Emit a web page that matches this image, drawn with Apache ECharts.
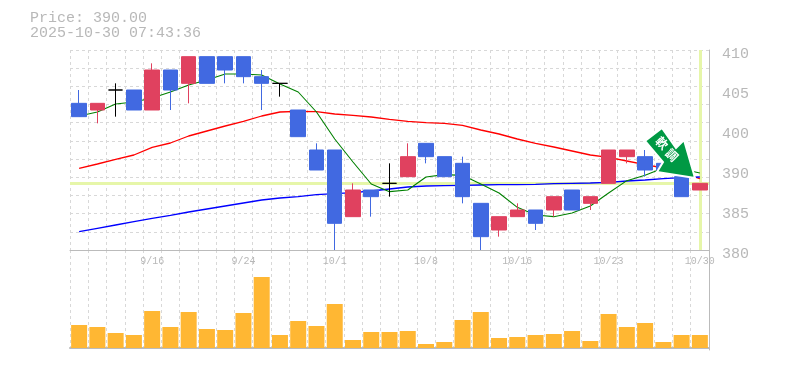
<!DOCTYPE html>
<html><head><meta charset="utf-8">
<style>html,body{margin:0;padding:0;background:#fff}#c{width:785px;height:370px}</style>
<script src="https://cdn.jsdelivr.net/npm/echarts@6/dist/echarts.min.js"></script>
</head><body><div id="c"></div>
<script>
const categories = ['9/9','9/10','9/11','9/12','9/16','9/17','9/18','9/19','9/22','9/24','9/25','9/26','9/29','9/30','10/1','10/2','10/3','10/6','10/7','10/8','10/9','10/10','10/14','10/15','10/16','10/17','10/20','10/21','10/22','10/23','10/24','10/27','10/28','10/29','10/30'];
// [open, close, low, high]
const ohlc = [
[402,400,400,404],[401,402,399,402],[404,404,400,405],[404,401,401,404],[401,407,401,408],
[407,404,401,407],[405,409,402,409],[409,405,405,409],[409,407,405,409],[409,406,405,409],
[406,405,401,407],[405,405,403,405],[401,397,397,401],[395,392,392,396],[395,384,380,395],
[385,389,385,390],[389,388,385,389],[390,390,388,393],[391,394,391,396],[396,394,393,396],
[394,391,391,394],[393,388,387,394],[387,382,380,387],[383,385,382,385],[385,386,385,387],
[386,384,383,386],[386,388,385,388],[389,386,386,389],[387,388,386,388],[390,395,390,395],
[394,395,393,395],[394,392,391,395],[393,392,392,393],[391,388,388,391],[389,390,389,390]];
const maShort = [400.1,400.7,401.9,402.2,402.8,403.7,404.75,405.5,406.4,406.4,406.25,404.9,403.7,400.7,396.65,393.2,389.9,388.75,389,390.95,391.3,391.2,389.9,388.55,386.4,385.25,385,385.55,386.6,388.55,390.4,391.2,392.3,392.15,391.55];
const maMid = [392.26,392.9,393.6,394.25,395.4,396.05,397.1,397.85,398.6,399.3,400.1,400.7,400.8,400.75,400.4,400.2,399.95,399.6,399.3,399.1,399,398.7,398,397.4,396.65,396,395.45,394.85,394.25,393.9,393.35,392.8,392.3,391.55,390.7];
const maLong = [382.75,383.25,383.75,384.25,384.75,385.2,385.7,386.15,386.6,387.05,387.5,387.8,388,388.3,388.45,388.6,388.85,389.15,389.45,389.6,389.65,389.7,389.75,389.8,389.8,389.85,389.95,390,390.05,390.15,390.35,390.5,390.7,390.85,390.95];
const volume = [23,21,15,13,37,21,36,19,18,35,71,13,27,22,44,8,16,16,17,4,6,28,36,10,11,13,14,17,7,34,21,25,6,13,13];
const priceTickValues = [380,386,392,398,404,410];
const priceTickLabels = ['380','385','390','400','405','410'];
const currentPrice = 390;
const titleLines = ['Price: 390.00','2025-10-30 07:43:36'];
const arrowChars = ['軟','調'];

const MONO = '"Liberation Mono",monospace';
const GRAY = '#b8b8b8', AXIS = '#bbbbbb', GRID = '#d8d8d8', BAND = '#e6f6a9';
const gridStep = 30/11;
const gridValues = Array.from({length:12},(_,i)=>380+i*gridStep);
const colored = ohlc.map(d=>{
  if(d[0]===d[1]) return {value:d,itemStyle:{color:'#000',color0:'#000',borderColor:'#000',borderColor0:'#000'}};
  return d;
});
const chart = echarts.init(document.getElementById('c'),null,{renderer:'canvas'});
const dashed = {show:true,lineStyle:{color:GRID,type:[3,3],width:1}};
chart.setOption({
  animation:false,
  backgroundColor:'#fff',
  title:{text:titleLines.join('\n'),left:30,top:11,padding:0,textStyle:{fontFamily:MONO,fontSize:15,fontWeight:'normal',color:GRAY,lineHeight:15}},
  grid:[{left:70,right:76,top:50,height:200},{left:70,right:76,top:250,height:100}],
  xAxis:[
   {type:'category',gridIndex:0,data:categories,boundaryGap:true,
    axisLine:{show:true,lineStyle:{color:AXIS,width:1}},axisTick:{show:false},
    axisLabel:{show:true,interval:i=>i%5===4,fontFamily:MONO,fontSize:10,color:GRAY,margin:6},
    splitLine:{...dashed,interval:0}},
   {type:'category',gridIndex:1,data:categories,boundaryGap:true,
    axisLine:{show:true,lineStyle:{color:AXIS,width:2}},axisTick:{show:false},axisLabel:{show:false},
    splitLine:{...dashed,interval:0}}],
  yAxis:[
   {type:'value',gridIndex:0,position:'right',min:380,max:410,scale:true,
    axisLine:{show:true,lineStyle:{color:AXIS,width:1}},
    axisTick:{show:false,customValues:gridValues},
    axisLabel:{customValues:priceTickValues,fontFamily:MONO,fontSize:15,color:GRAY,margin:13,verticalAlign:'top',lineHeight:9,
      formatter:v=>{const i=priceTickValues.indexOf(Math.round(v));return i>=0?priceTickLabels[i]:'';}},
    splitLine:dashed},
   {type:'value',gridIndex:1,position:'right',min:-2,max:98,
    axisLine:{show:true,lineStyle:{color:AXIS,width:1}},axisTick:{show:false},axisLabel:{show:false},splitLine:{show:false}}],
  series:[
   {name:'base',type:'line',data:[],xAxisIndex:0,yAxisIndex:0,silent:true,z:1,
    markLine:{z:1,silent:true,symbol:'none',label:{show:false},animation:false,
      lineStyle:{color:BAND,width:3,type:'solid'},
      data:[{yAxis:currentPrice},{xAxis:'10/30'}]}},
   {name:'mid',type:'line',data:maMid,showSymbol:false,symbol:'none',lineStyle:{color:'#ff0000',width:1.3},z:2},
   {name:'long',type:'line',data:maLong,showSymbol:false,symbol:'none',lineStyle:{color:'#0000ff',width:1.3},z:2},
   {name:'short',type:'line',data:maShort,showSymbol:false,symbol:'none',lineStyle:{color:'#008000',width:1.1},z:2},
   {name:'price',type:'candlestick',data:colored,barWidth:15,z:3,
    itemStyle:{color:'#e0415f',color0:'#4169e1',borderColor:'#e0415f',borderColor0:'#4169e1',borderWidth:1}},
   {name:'volume',type:'bar',xAxisIndex:1,yAxisIndex:1,data:volume,barWidth:16,itemStyle:{color:'#ffb733'}}
  ],
  graphic:[{type:'polygon',z:100,shape:{points:[[662,128],[676,148],[684,140],[695,178],[657,172],[663,162],[645,141]]},
     style:{fill:'#009944',stroke:'#fff',lineWidth:2}},
    {type:'text',z:101,x:662,y:143,rotation:-Math.PI/4,style:{text:arrowChars[0],fill:'#fff',font:'bold 12px "Noto Sans CJK JP"',align:'center',verticalAlign:'middle'}},
    {type:'text',z:101,x:672,y:155,rotation:-Math.PI/4,style:{text:arrowChars[1],fill:'#fff',font:'bold 12px "Noto Sans CJK JP"',align:'center',verticalAlign:'middle'}}]
});
</script></body></html>
